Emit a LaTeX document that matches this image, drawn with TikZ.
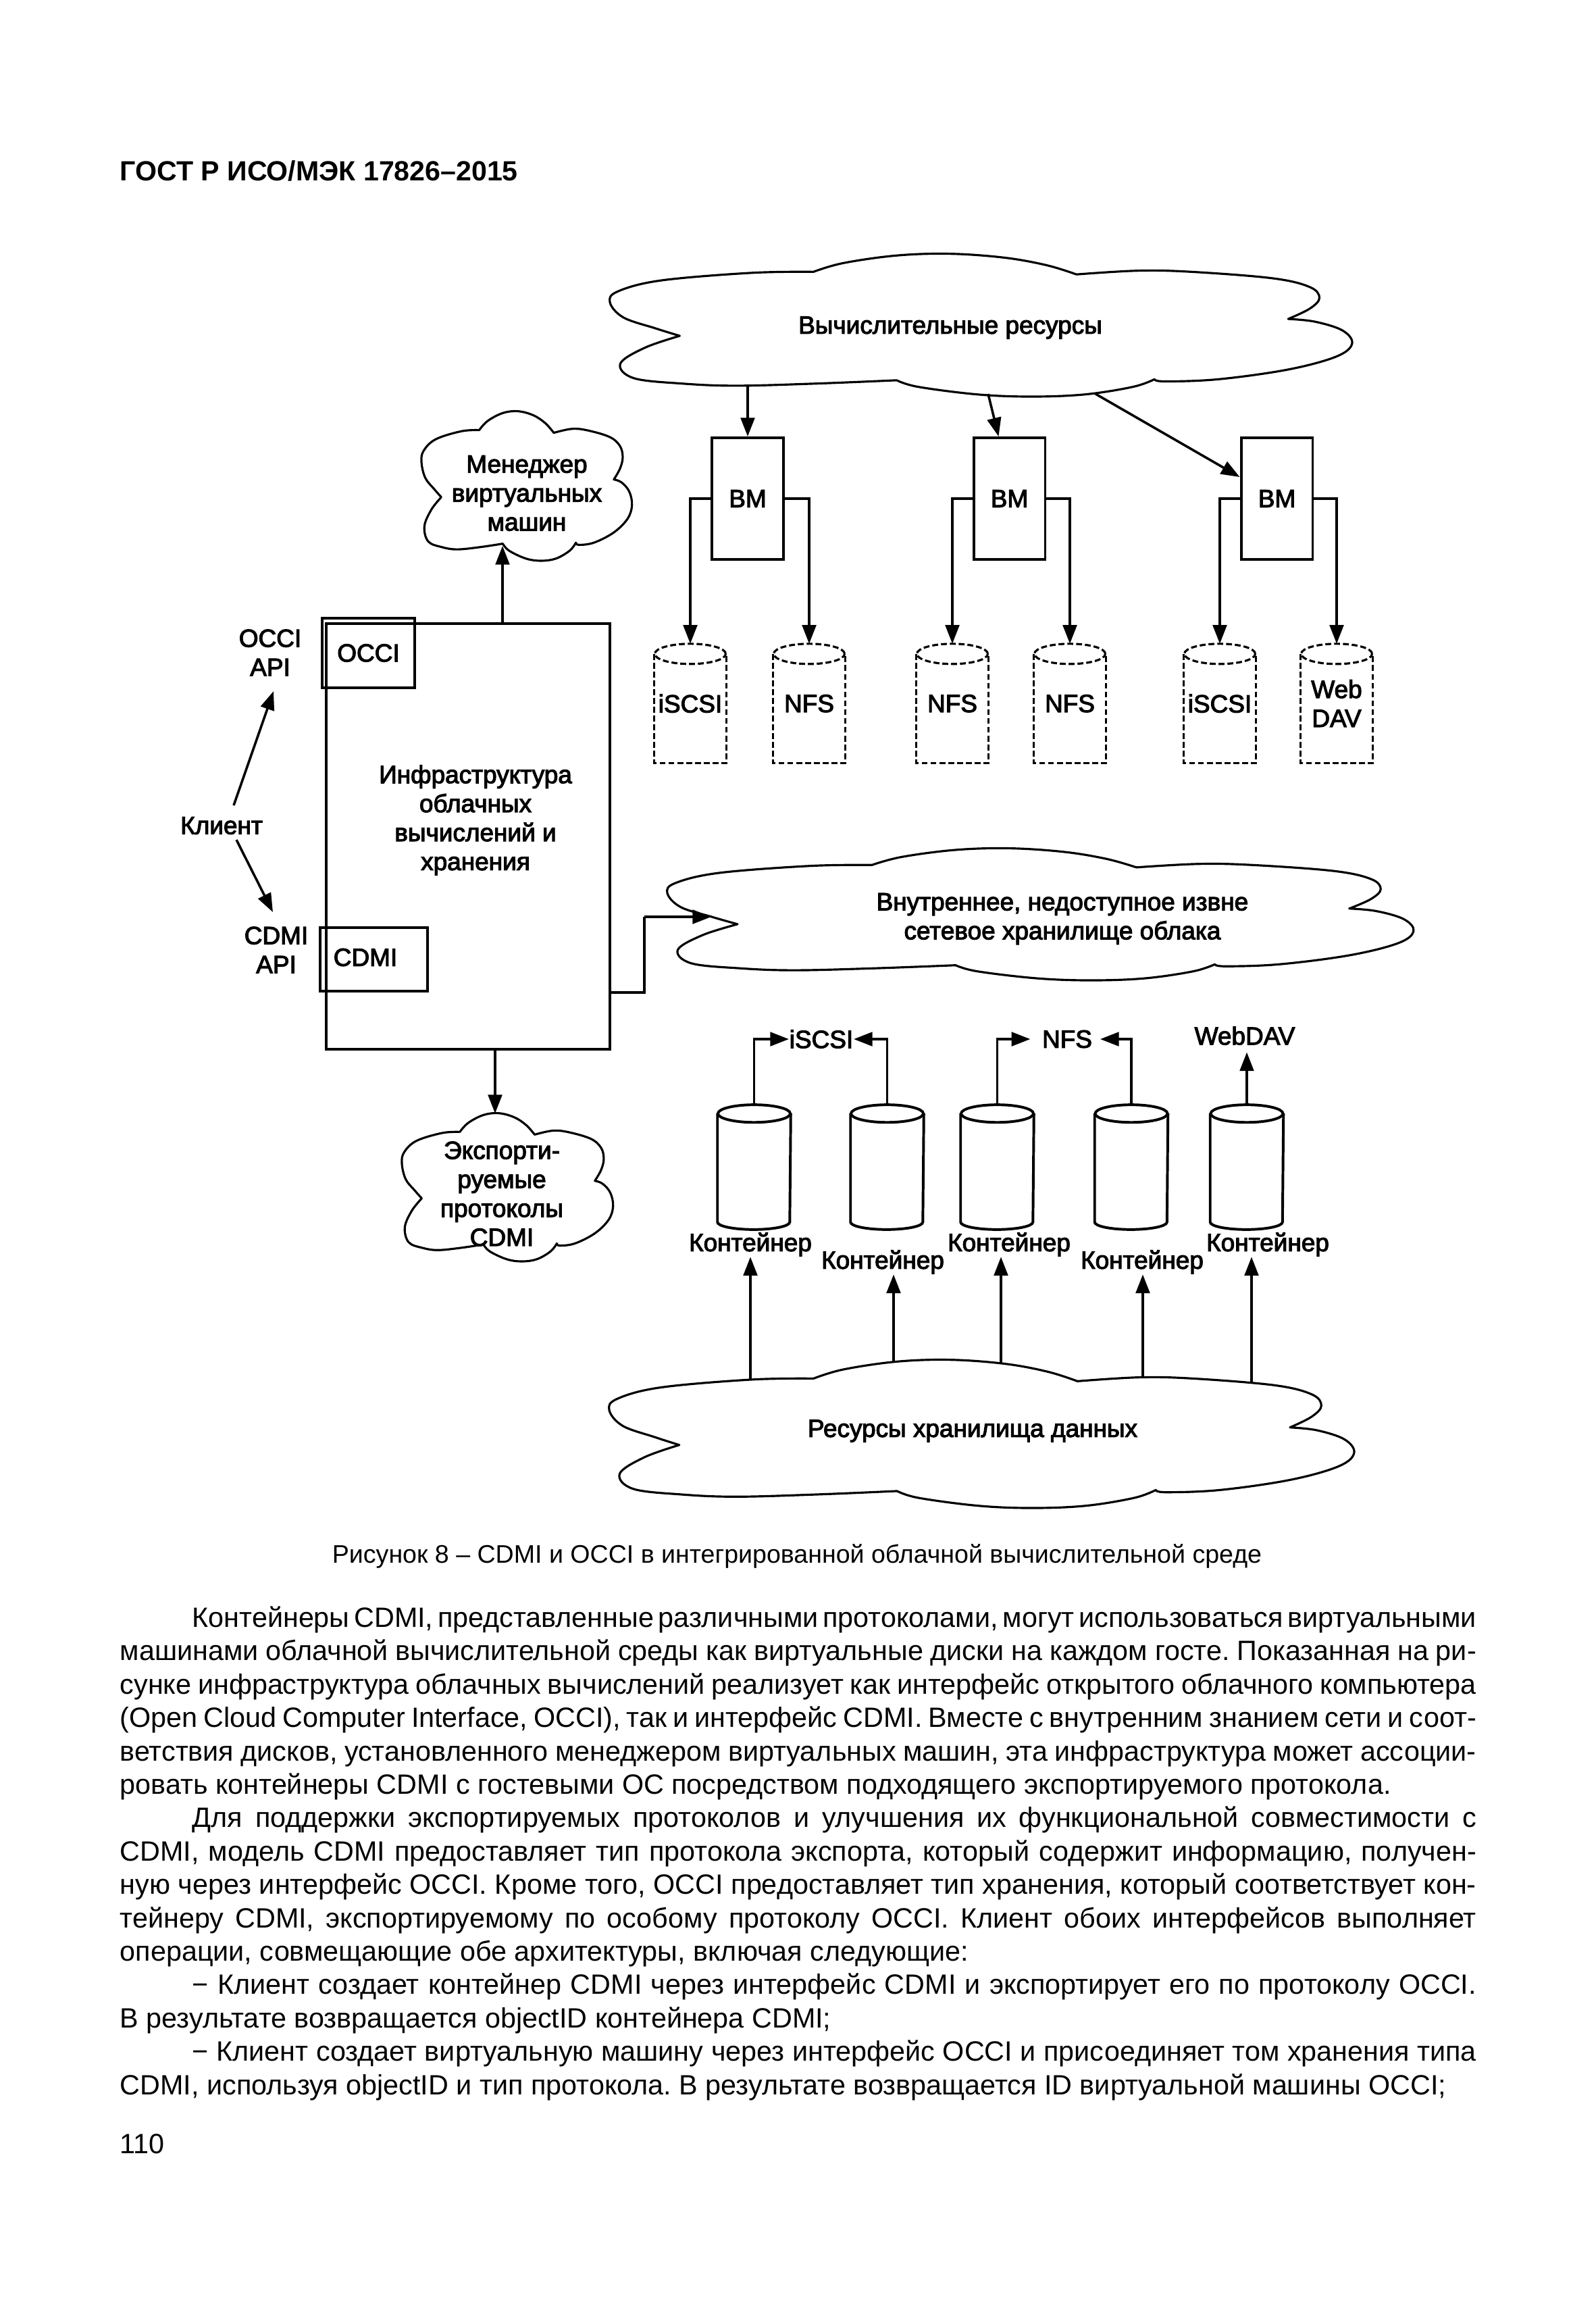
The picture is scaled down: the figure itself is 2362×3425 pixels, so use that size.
\documentclass[tikz,border=0pt]{standalone}
\usepackage{fontspec}
\setmainfont{Liberation Sans}
\newfontfamily\dgfont[FakeBold=3]{Liberation Sans}
\usetikzlibrary{arrows.meta,calc}
\frenchspacing

\newcommand{\cloudpath}{plot[smooth,tension=0.6] coordinates {(.274,.129)(.191,.136)(.069,.189)(.011,.265)(0,.341)(.018,.447)(.061,.523)(.094,.576)} -- plot[smooth,tension=0.6] coordinates {(.094,.576)(.047,.659)(.014,.77)(.032,.871)(.097,.909)(.170,.924)(.278,.909)(.386,.886)} -- plot[smooth,tension=0.6] coordinates {(.386,.886)(.415,.932)(.495,.985)(.567,1)(.639,.985)(.704,.932)(.733,.879)} -- plot[smooth,tension=0.6] coordinates {(.733,.879)(.747,.894)(.819,.879)(.913,.811)(.978,.720)(.999,.629)(.986,.538)(.949,.477)(.913,.458)} -- plot[smooth,tension=0.6] coordinates {(.913,.458)(.942,.386)(.955,.311)(.942,.235)(.892,.174)(.783,.129)(.711,.121)(.628,.147)} -- plot[smooth,tension=0.6] coordinates {(.628,.147)(.588,.083)(.531,.030)(.458,.003)(.386,.015)(.314,.068)(.274,.129)} -- cycle}

\newcommand{\dcylinder}[3]{%
  \node[dg, minimum width=9.33mm, minimum height=15.56mm, text depth=0pt, yshift=-0.5mm] (#1) at (#2,1035.5) {#3};
  \draw[dcyl] ($(#1.north)+(0,15)$) ellipse [x radius=4.67mm, y radius=1.33mm];
  \draw[dcyl] ($(#1.north west)+(0,15)$) -- (#1.south west) -- (#1.south east) -- ($(#1.north east)+(0,15)$);}

\newcommand{\scylinder}[2]{%
  \node[inner sep=0pt, minimum width=9.51mm, minimum height=16.27mm] (#1) at (#2,1727.5) {};
  \draw[ln] ($(#1.north)+(0,13)$) ellipse [x radius=4.76mm, y radius=1.16mm];
  \draw[ln] ($(#1.north west)+(0,13)$) -- ($(#1.south west)+(0,-11)$) arc[start angle=180, end angle=360, x radius=4.76mm, y radius=0.98mm] -- ($(#1.north east)+(0,13)$);}

\newcommand{\bodyfont}{\fontsize{10.45pt}{12pt}\selectfont\spaceskip=0.278em plus 0.5em minus 0.16em\relax}

\begin{document}
\begin{tikzpicture}[x=0.0889mm, y=-0.0889mm,
  ln/.style={line width=1pt},
  arr/.style={line width=0.9pt, -{Triangle[length=7pt,width=5.2pt]}},
  cl/.style={line width=0.8pt, line join=round},
  dg/.style={font=\dgfont\fontsize{9.35pt}{10.85pt}\selectfont, align=center, inner sep=0pt},
  bx/.style={draw, line width=1pt, inner sep=0pt},
  dcyl/.style={line width=0.8pt, dash pattern=on 2.2pt off 1.1pt},
  body/.style={font=\bodyfont, anchor=base west, inner sep=0pt}]
\useasboundingbox (0,0) rectangle (2362,3425);
\fill[white] (0,0) rectangle (2362,3425);

% header
\node[anchor=base west, inner sep=0pt, font=\bfseries\fontsize{10.4pt}{12pt}\selectfont] (hdr) at (177,267) {ГОСТ Р ИСО/МЭК 17826–2015};

% top cloud
\draw[cl, shift={(903,375)}, xscale=1100, yscale=212] \cloudpath;
\node[dg] (res) at (1407,485) {Вычислительные ресурсы};
\coordinate (r1) at (1107,570);
\coordinate (r2) at (1463,583);
\coordinate (r3) at (1622,583);

% VMs
\node[bx, dg, minimum width=9.42mm, minimum height=16mm] (bm1) at (1107,738) {ВМ};
\node[bx, dg, minimum width=9.42mm, minimum height=16mm] (bm2) at (1494.5,738) {ВМ};
\node[bx, dg, minimum width=9.42mm, minimum height=16mm] (bm3) at (1890.5,738) {ВМ};
\draw[arr] (r1) -- (bm1.north);
\draw[arr] (r2) -- ($(bm2.north)+(-16,0)$);
\draw[arr] (r3) -- ($(bm3.north west)+(0,60)$);

% dashed cylinders
\dcylinder{c1}{1022}{iSCSI}
\dcylinder{c2}{1198}{NFS}
\dcylinder{c3}{1410}{NFS}
\dcylinder{c4}{1584}{NFS}
\dcylinder{c5}{1806}{iSCSI}
\dcylinder{c6}{1979}{Web\\DAV}
\draw[arr] (bm1.west) -| (c1.north);
\draw[arr] (bm1.east) -| (c2.north);
\draw[arr] (bm2.west) -| (c3.north);
\draw[arr] (bm2.east) -| (c4.north);
\draw[arr] (bm3.west) -| (c5.north);
\draw[arr] (bm3.east) -| (c6.north);

% manager cloud
\draw[cl, shift={(624,608)}, xscale=312, yscale=222] \cloudpath;
\node[dg] (mgr) at (780,730) {Менеджер\\виртуальных\\машин};
\coordinate (mgrin) at (744,808);

% infrastructure
\node[bx, minimum width=37.34mm, minimum height=56.0mm] (infra) at (693,1238) {};
\node[dg] (infratxt) at (704,1214) {Инфраструктура\\облачных\\вычислений и\\хранения};
\node[bx, dg, minimum width=12.18mm, minimum height=9.16mm] (occi) at (545.5,966.5) {OCCI};
\node[bx, minimum width=14.14mm, minimum height=8.36mm] (cdmi) at (553.5,1420) {};
\node[dg] (cdmitxt) at (541,1417) {CDMI};
\draw[arr] (infra.north -| mgrin) -- (mgrin);

% client
\node[dg] (occiapi) at (400,966) {OCCI\\API};
\node[dg] (client) at (328,1222) {Клиент};
\node[dg] (cdmiapi) at (409,1406) {CDMI\\API};
\draw[arr] ($(client.center)+(18,-30)$) -- ($(occiapi.center)+(5,57)$);
\draw[arr] ($(client.center)+(22,21)$) -- ($(cdmiapi.center)+(-5,-56)$);

% export cloud
\draw[cl, shift={(595,1647)}, xscale=313, yscale=220] \cloudpath;
\node[dg] (exp) at (743,1767) {Экспорти-\\руемые\\протоколы\\CDMI};
\coordinate (expin) at (733,1648);
\draw[arr] (infra.south -| expin) -- (expin);

% middle cloud
\draw[cl, shift={(988,1255)}, xscale=1106, yscale=196] \cloudpath;
\node[dg] (net) at (1573,1360) {Внутреннее, недоступное извне\\сетевое хранилище облака};
\coordinate (midin) at (1053,1357);
\coordinate (midbend) at (954,1357);
\draw[line width=0.9pt] (infra.east |- cdmi.south) -| (midbend);
\draw[arr] (midbend) -- (midin);

% containers
\scylinder{kA}{1116.5}
\scylinder{kB}{1313.5}
\scylinder{kC}{1476.5}
\scylinder{kD}{1675}
\scylinder{kE}{1846}
\node[dg] (lA) at (1111,1842) {Контейнер};
\node[dg] (lB) at (1307,1868) {Контейнер};
\node[dg] (lC) at (1494,1842) {Контейнер};
\node[dg] (lD) at (1691,1868) {Контейнер};
\node[dg] (lE) at (1877,1842) {Контейнер};

\node[dg] (pI) at (1216,1538) {iSCSI};
\node[dg] (pN) at (1580,1538) {NFS};
\node[dg] (pW) at (1843,1533) {WebDAV};
\draw[arr] (kA.north) |- (pI.west);
\draw[arr] (kB.north) |- (pI.east);
\draw[arr, shorten >=1.5mm] (kC.north) |- (pN.west);
\draw[arr, shorten >=1mm] (kD.north) |- (pN.east);
\draw[arr, shorten >=0.9mm] (kE.north) -- (kE.north |- pW.south);

% bottom cloud
\draw[cl, shift={(902,2012)}, xscale=1104, yscale=220] \cloudpath;
\node[dg] (stor) at (1440,2118) {Ресурсы хранилища данных};
\coordinate (bA) at (1111,2041);
\coordinate (bB) at (1323,2015);
\coordinate (bC) at (1482,2017);
\coordinate (bD) at (1692,2039);
\coordinate (bE) at (1853,2045);
\draw[arr] (bA) -- (bA |- lA.south);
\draw[arr] (bB) -- (bB |- lB.south);
\draw[arr] (bC) -- (bC |- lC.south);
\draw[arr] (bD) -- (bD |- lD.south);
\draw[arr] (bE) -- (bE |- lE.south);

% caption
\node[anchor=base, inner sep=0pt, font=\fontsize{9.5pt}{11pt}\selectfont] (cap) at (1180,2313) {Рисунок 8 – CDMI и OCCI в интегрированной облачной вычислительной среде};

% body text
\node[body] (t0) at (284,2408) {\makebox[169mm][s]{Контейнеры CDMI, представленные различными протоколами, могут использоваться виртуальными}};
\node[body] (t1) at (177,2457) {\makebox[178.5mm][s]{машинами облачной вычислительной среды как виртуальные диски на каждом госте. Показанная на ри-}};
\node[body] (t2) at (177,2507) {\makebox[178.5mm][s]{сунке инфраструктура облачных вычислений реализует как интерфейс открытого облачного компьютера}};
\node[body] (t3) at (177,2556) {\makebox[178.5mm][s]{(Open Cloud Computer Interface, OCCI), так и интерфейс CDMI. Вместе с внутренним знанием сети и соот-}};
\node[body] (t4) at (177,2606) {\makebox[178.5mm][s]{ветствия дисков, установленного менеджером виртуальных машин, эта инфраструктура может ассоции-}};
\node[body] (t5) at (177,2655) {ровать контейнеры CDMI с гостевыми ОС посредством подходящего экспортируемого протокола.};
\node[body] (t6) at (284,2704) {\makebox[169mm][s]{Для поддержки экспортируемых протоколов и улучшения их функциональной совместимости с}};
\node[body] (t7) at (177,2754) {\makebox[178.5mm][s]{CDMI, модель CDMI предоставляет тип протокола экспорта, который содержит информацию, получен-}};
\node[body] (t8) at (177,2803) {\makebox[178.5mm][s]{ную через интерфейс OCCI. Кроме того, OCCI предоставляет тип хранения, который соответствует кон-}};
\node[body] (t9) at (177,2853) {\makebox[178.5mm][s]{тейнеру CDMI, экспортируемому по особому протоколу OCCI. Клиент обоих интерфейсов выполняет}};
\node[body] (t10) at (177,2902) {операции, совмещающие обе архитектуры, включая следующие:};
\node[body] (t11) at (284,2951) {\makebox[169mm][s]{− Клиент создает контейнер CDMI через интерфейс CDMI и экспортирует его по протоколу OCCI.}};
\node[body] (t12) at (177,3001) {В результате возвращается objectID контейнера CDMI;};
\node[body] (t13) at (284,3050) {\makebox[169mm][s]{− Клиент создает виртуальную машину через интерфейс OCCI и присоединяет том хранения типа}};
\node[body] (t14) at (177,3100) {CDMI, используя objectID и тип протокола. В результате возвращается ID виртуальной машины OCCI;};
\node[body] (pg) at (177,3187) {110};
\end{tikzpicture}
\end{document}
